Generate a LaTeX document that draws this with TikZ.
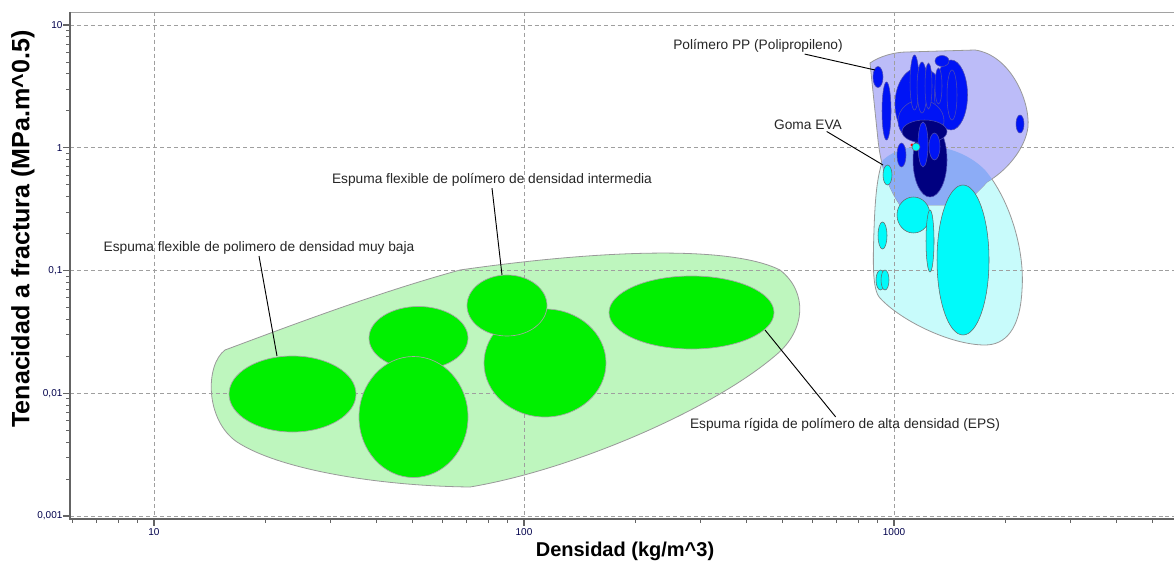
\documentclass[tikz,border=0pt]{standalone}
\usepackage{fontspec}
\setmainfont{Liberation Sans}
\usetikzlibrary{positioning}

\definecolor{foamgreen}{RGB}{0,240,0}
\definecolor{greenhull}{RGB}{190,246,190}
\definecolor{cyanhull}{RGB}{200,251,251}
\definecolor{bluehull}{RGB}{188,188,248}
\definecolor{mixhull}{RGB}{140,172,246}
\definecolor{ppblue}{RGB}{0,20,245}
\definecolor{evanavy}{RGB}{0,0,128}
\definecolor{evacyan}{RGB}{0,250,250}
\definecolor{axisgray}{RGB}{100,100,100}

% outlines of the three families
\newcommand*{\hullFoam}{(225,350) .. controls (300,322) and (380,292) .. (460,270)
  .. controls (600,250) and (730,245) .. (780,270)
  .. controls (808,292) and (806,330) .. (776,355)
  .. controls (712,410) and (572,470) .. (470,487)
  .. controls (380,486) and (280,470) .. (237,442)
  .. controls (205,420) and (205,365) .. (225,350) -- cycle}
\newcommand*{\hullPP}{(870,63) .. controls (880,56) and (895,52) .. (907,52)
  -- (975,50) .. controls (1010,55) and (1030,100) .. (1028,127)
  .. controls (1025,150) and (1005,172) .. (987,182)
  .. controls (975,195) and (965,205) .. (955,205)
  -- (900,205) .. controls (886,185) and (880,160) .. (878,140) -- cycle}
\newcommand*{\hullEVA}{(883,160) .. controls (905,140) and (955,140) .. (985,170)
  .. controls (1010,200) and (1025,250) .. (1022,290)
  .. controls (1020,330) and (1005,345) .. (985,345)
  .. controls (950,345) and (900,320) .. (880,298)
  .. controls (872,290) and (873,260) .. (874,230)
  .. controls (875,200) and (877,175) .. (883,160) -- cycle}

\begin{document}
\begin{tikzpicture}[x=0.75pt,y=-0.75pt]
    % Define styles for shapes
    \tikzstyle{gridline} = [gray!75, line width=0.6pt, dash pattern=on 3pt off 2.2pt]
    \tikzstyle{hull} = [draw=gray!80, line width=0.6pt]
    \tikzstyle{foam} = [fill=foamgreen, draw=gray!70, line width=0.5pt]
    \tikzstyle{ppcell} = [fill=ppblue, draw=gray!60!blue, line width=0.4pt]
    \tikzstyle{evacell} = [fill=evacyan, draw=gray!80!black, line width=0.4pt]
    \tikzstyle{leader} = [black, line width=0.7pt]
    \tikzstyle{annot} = [inner sep=1pt, text=black!85, font=\fontsize{10.3}{12}\selectfont]
    \tikzstyle{ticklabel} = [inner sep=1pt, text=black!70!blue, font=\fontsize{7.5}{9}\selectfont]
    \useasboundingbox (0,0) rectangle (1174,563);

    % Draw envelopes
    \fill[white] (0,0) rectangle (1174,563);
    \filldraw[hull, fill=greenhull] \hullFoam;
    \filldraw[hull, fill=cyanhull] \hullEVA;
    \filldraw[hull, fill=bluehull] \hullPP;
    \begin{scope}
        \clip \hullEVA;
        \fill[mixhull] \hullPP;
    \end{scope}

    % Draw grid
    \foreach \d in {0,...,4}
        \draw[gridline] (70,25+122.75*\d) -- (1174,25+122.75*\d);
    \foreach \gx in {154,524,894}
        \draw[gridline] (\gx,12) -- (\gx,519);

    % Draw foams
    \draw[foam] (292.5,394) ellipse [x radius=63.5, y radius=38];
    \draw[foam] (418.5,338) ellipse [x radius=49.5, y radius=31.5];
    \draw[foam] (413.5,417) ellipse [x radius=54.5, y radius=60.5];
    \draw[foam] (545,363) ellipse [x radius=61, y radius=54];
    \draw[foam] (507,305.5) ellipse [x radius=40, y radius=30.5];
    \draw[foam] (691.5,312.5) ellipse [x radius=82.5, y radius=36.5];

    % Draw EVA cells
    \draw[evacell] (887.5,175) ellipse [x radius=4.5, y radius=10];
    \draw[evacell] (913.5,215) ellipse [x radius=16.5, y radius=18];
    \draw[evacell] (930,241) ellipse [x radius=4, y radius=31];
    \draw[evacell] (963,260) ellipse [x radius=26, y radius=75];
    \draw[evacell] (882.5,235.5) ellipse [x radius=4.5, y radius=13.5];
    \draw[evacell] (880.5,280) ellipse [x radius=4.5, y radius=10];
    \draw[evacell] (885,280) ellipse [x radius=4, y radius=10];

    % Draw PP cells
    \draw[ppcell] (878,77) ellipse [x radius=5, y radius=10.5];
    \draw[ppcell] (886.5,111) ellipse [x radius=4.5, y radius=29];
    \draw[ppcell] (920,104) ellipse [x radius=25, y radius=37];
    \draw[ppcell] (951,95) ellipse [x radius=16.5, y radius=35];
    \draw[ppcell] (942,61) ellipse [x radius=7, y radius=5.5];
    \draw[ppcell] (921,121) ellipse [x radius=23, y radius=21];
    \draw[ppcell] (914.5,82.5) ellipse [x radius=4.5, y radius=27.5];
    \draw[ppcell] (922,87.5) ellipse [x radius=5, y radius=25.5];
    \draw[ppcell] (928.5,86) ellipse [x radius=3.5, y radius=23];
    \draw[ppcell] (938.5,86) ellipse [x radius=3.5, y radius=18];
    \draw[ppcell] (952,95) ellipse [x radius=5, y radius=25];
    \draw[ppcell] (1020,124) ellipse [x radius=4, y radius=9];
    \draw[ppcell] (901.5,155) ellipse [x radius=4.5, y radius=12];
    \draw[ppcell, fill=evanavy] (930,160) ellipse [x radius=17, y radius=37];
    \draw[ppcell, fill=evanavy] (924.5,131.5) ellipse [x radius=22.5, y radius=11.5];
    \draw[ppcell] (923,144.5) ellipse [x radius=5, y radius=22.5];
    \draw[ppcell] (934.5,146.5) ellipse [x radius=5.5, y radius=13.5];
    \fill[red] (912,145) circle [radius=1.6];
    \draw[evacell] (916,147) circle [radius=4];

    % Draw axes
    \draw[axisgray!60, line width=0.6pt] (70,12) -- (1174,12);
    \draw[axisgray, line width=1.1pt] (70,12) -- (70,519) -- (1174,519);
    \foreach \d in {0,...,4}
        \draw[axisgray, line width=0.8pt] (63,25+122.75*\d) -- (70,25+122.75*\d);
    \foreach \d in {1,...,4}
        \foreach \m in {2,...,9} {
            \pgfmathsetmacro\yy{25+122.75*(\d-log10(\m))}
            \draw[axisgray, line width=0.6pt] (66,\yy) -- (70,\yy);
        }
    \foreach \gx in {154,524,894}
        \draw[axisgray, line width=0.8pt] (\gx,519) -- (\gx,526);
    \foreach \d in {0,...,3}
        \foreach \m in {2,...,9} {
            \pgfmathsetmacro\xx{-216+370*(\d+log10(\m))}
            \pgfmathparse{and(\xx>70,\xx<1174)}
            \ifnum\pgfmathresult=1
                \draw[axisgray, line width=0.6pt] (\xx,519) -- (\xx,523);
            \fi
        }

    % Draw tick labels
    \node[ticklabel, anchor=east] (ty10) at (64,25) {10};
    \node[ticklabel, anchor=east] (ty1) at (64,147.75) {1};
    \node[ticklabel, anchor=east] (ty01) at (64,270.5) {0,1};
    \node[ticklabel, anchor=east] (ty001) at (64,393.25) {0,01};
    \node[ticklabel, anchor=east] (ty0001) at (64,516) {0,001};
    \node[ticklabel, anchor=north] (tx10) at (154,527) {10};
    \node[ticklabel, anchor=north] (tx100) at (524,527) {100};
    \node[ticklabel, anchor=north] (tx1000) at (894,527) {1000};

    % Draw axis titles
    \node[font=\bfseries\fontsize{15}{18}\selectfont] (xtitle) at (625,551) {Densidad (kg/m\textasciicircum 3)};
    \node[rotate=90, font=\bfseries\fontsize{18.8}{22}\selectfont] (ytitle) at (23,229) {Tenacidad a fractura (MPa.m\textasciicircum 0.5)};

    % Draw labels
    \node[annot] (lblBaja) at (259,248) {Espuma flexible de polimero de densidad muy baja};
    \node[annot] (lblMedia) at (492,180) {Espuma flexible de polímero de densidad intermedia};
    \node[annot] (lblEPS) at (845,425) {Espuma rígida de polímero de alta densidad (EPS)};
    \node[annot] (lblPP) at (758,46) {Polímero PP (Polipropileno)};
    \node[annot] (lblEVA) at (808,125) {Goma EVA};
    \coordinate (tipBaja) at (277,356);
    \coordinate (tipMedia) at (502,275);
    \coordinate (tipEPS) at (765,330);
    \coordinate (tipPP) at (875,70);
    \coordinate (tipEVA) at (883,165);

    % Draw leaders
    \draw[leader] (lblBaja.south) -- (tipBaja);
    \draw[leader] (lblMedia.south) -- (tipMedia);
    \draw[leader] ([xshift=-7pt]lblEPS.north) -- (tipEPS);
    \draw[leader] ([xshift=35pt]lblPP.south) -- (tipPP);
    \draw[leader] ([xshift=14pt]lblEVA.south) -- (tipEVA);
\end{tikzpicture}
\end{document}
